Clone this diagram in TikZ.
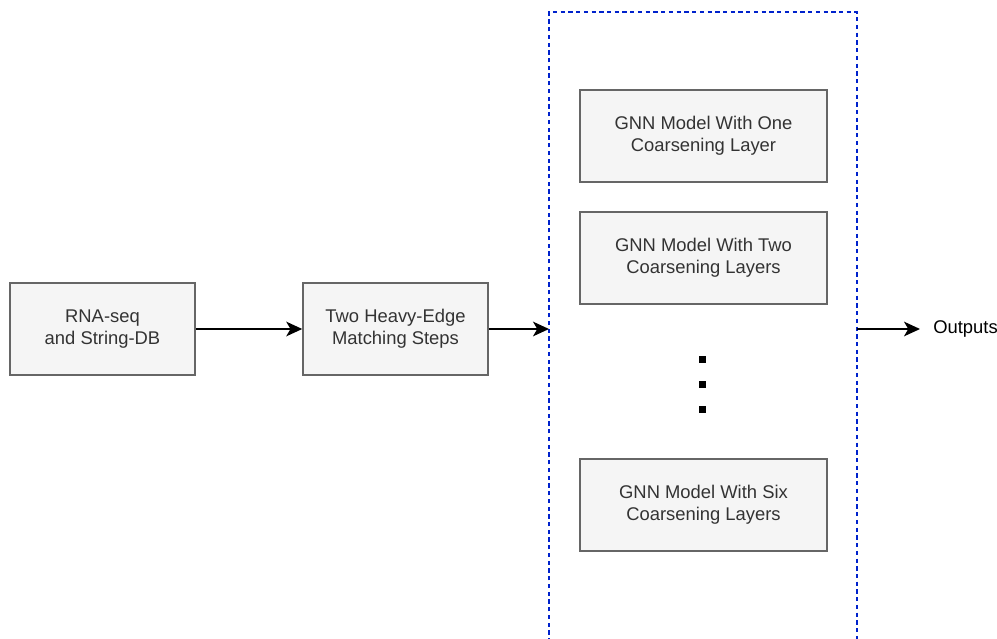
\documentclass[tikz,border=0pt]{standalone}
\usepackage{fontspec}
\setmainfont{Liberation Sans}
\usetikzlibrary{arrows.meta}
\definecolor{boxfill}{HTML}{F5F5F5}
\definecolor{boxline}{HTML}{666666}
\definecolor{boxtext}{HTML}{333333}
\definecolor{groupline}{HTML}{0022CC}
\newlength{\pxu}
\setlength{\pxu}{0.75pt}
\tikzset{
  stagebox/.style={draw=boxline, fill=boxfill, text=boxtext, line width=1.15pt,
    minimum width=185\pxu, minimum height=92\pxu, inner sep=0pt,
    align=center, font=\fontsize{13.8pt}{16.6pt}\selectfont},
  modelbox/.style={stagebox, minimum width=247\pxu},
  flow/.style={line width=1.1pt, -{Stealth[length=12pt,width=11pt,inset=3.2pt]}},
  groupbox/.style={draw=groupline, line width=1.1pt, dash pattern=on 3.2pt off 2.6pt},
  dotmark/.style={fill=black, minimum size=7\pxu, inner sep=0pt}
}
\begin{document}
\begin{tikzpicture}[x=0.75pt, y=-0.75pt]
\useasboundingbox (0,0) rectangle (997,639);

% dashed group around the GNN variants (runs past the lower edge)
\draw[groupbox] (549,650) -- (549,12) -- (857,12) -- (857,650);
\coordinate (gin) at (549,329);
\coordinate (gout) at (857,329);

% pipeline stages
\node[stagebox] (data) at (102.5,329) {RNA-seq\\and String-DB};
\node[stagebox] (match) at (395.5,329) {Two Heavy-Edge\\Matching Steps};

% model variants
\node[modelbox] (m1) at (703.5,136) {GNN Model With One\\Coarsening Layer};
\node[modelbox] (m2) at (703.5,258) {GNN Model With Two\\Coarsening Layers};
\node[modelbox] (m6) at (703.5,505) {GNN Model With Six\\Coarsening Layers};

% vertical ellipsis
\node[dotmark] (d1) at (702,359) {};
\node[dotmark] (d2) at (702,384) {};
\node[dotmark] (d3) at (702,409) {};

% output label
\node[anchor=west, inner sep=0pt, font=\fontsize{13.8pt}{16.6pt}\selectfont] (out) at (933,329) {Outputs};

% connectors
\draw[flow] (data.east) -- (match.west);
\draw[flow] (match.east) -- (gin);
\draw[flow] (gout) -- ([xshift=-13\pxu]out.west);
\end{tikzpicture}
\end{document}
